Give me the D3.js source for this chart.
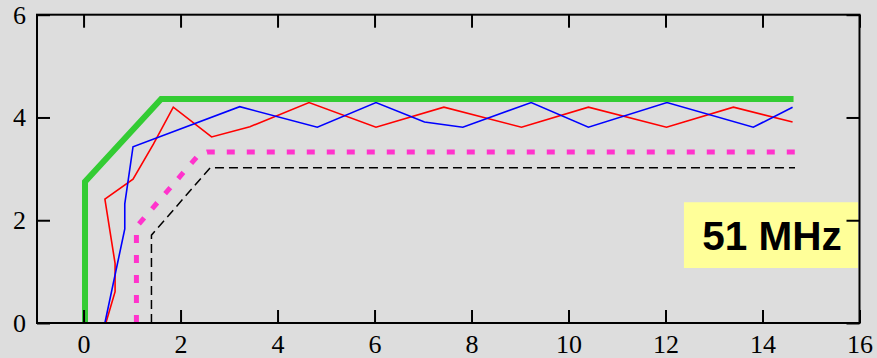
<!DOCTYPE html>
<html>
<head>
<meta charset="utf-8">
<script src="https://cdn.jsdelivr.net/npm/d3@7"></script>
<style>
  html, body { margin: 0; padding: 0; background: #dddddd; }
  svg { display: block; }
</style>
</head>
<body>
<svg id="chart" width="877" height="358"></svg>
<script>
// Profile curves, each as [x, y] pairs
const greenProfile = [[0.03, 0], [0.03, 2.75], [1.6, 4.36], [14.64, 4.36]];
const magentaProfile = [[1.09, 0], [1.09, 1.87], [2.38, 3.28], [2.55, 3.33], [14.89, 3.33]];
const blackProfile = [[1.40, 0], [1.40, 1.71], [2.61, 3.02], [14.67, 3.02]];
const redProfile = [
  [0.46, 0], [0.65, 0.61], [0.65, 1.16], [0.44, 2.41], [1.02, 2.80], [1.44, 3.48],
  [1.85, 4.20], [2.64, 3.62], [3.43, 3.82], [4.65, 4.29], [6.03, 3.81], [7.43, 4.20],
  [9.03, 3.81], [10.41, 4.20], [12.02, 3.81], [13.40, 4.20], [14.62, 3.91]
];
const blueProfile = [
  [0.44, 0], [0.85, 1.83], [0.85, 2.32], [1.02, 3.43], [3.22, 4.21], [4.82, 3.81],
  [6.03, 4.29], [7.03, 3.91], [7.82, 3.81], [9.23, 4.29], [10.41, 3.81], [12.03, 4.29],
  [13.81, 3.81], [14.62, 4.20]
];

const xTicks = [0, 2, 4, 6, 8, 10, 12, 14, 16];
const yTicks = [0, 2, 4, 6];

const labelText = "51 MHz";
const labelBox = { x0: 12.38, x1: 15.97, y0: 1.07, y1: 2.35 };

const svg = d3.select("#chart");

const x = d3.scaleLinear().domain([-0.96, 16]).range([37, 859.5]);
const y = d3.scaleLinear().domain([0, 6]).range([323, 14.7]);

// Frequency label box (drawn under the frame so ticks sit on top)
svg.append("rect")
  .attr("x", x(labelBox.x0))
  .attr("y", y(labelBox.y1))
  .attr("width", x(labelBox.x1) - x(labelBox.x0))
  .attr("height", y(labelBox.y0) - y(labelBox.y1))
  .attr("fill", "#ffff99");

svg.append("text")
  .attr("x", (x(labelBox.x0) + x(labelBox.x1)) / 2 + 1)
  .attr("y", (y(labelBox.y0) + y(labelBox.y1)) / 2 + 14.5)
  .attr("text-anchor", "middle")
  .style("font-family", "'Liberation Sans', Arial, sans-serif")
  .style("font-weight", "bold")
  .style("font-size", "40.5px")
  .attr("fill", "#000")
  .text(labelText);

const line = d3.line().x(d => x(d[0])).y(d => y(d[1]));

function drawProfile(data, color, width, dash) {
  const p = svg.append("path")
    .datum(data)
    .attr("d", line)
    .attr("fill", "none")
    .attr("stroke", color)
    .attr("stroke-width", width);
  if (dash) p.attr("stroke-dasharray", dash);
  return p;
}

drawProfile(blackProfile, "#000000", 1.5, "9,5");
drawProfile(magentaProfile, "#ff33cc", 5, "8,12");
drawProfile(redProfile, "#ff0000", 1.6);
drawProfile(blueProfile, "#0000ff", 1.6);
drawProfile(greenProfile, "#33cc33", 6);

// Axes with inward ticks on all four sides
function styleAxis(g) {
  g.select(".domain").remove();
  g.selectAll(".tick line").attr("stroke", "#000").attr("stroke-width", 2);
  g.selectAll(".tick text")
    .attr("fill", "#000")
    .style("font-family", "'Liberation Serif', 'Times New Roman', serif")
    .style("font-size", "26px");
}

svg.append("g")
  .attr("transform", `translate(0,${y(0)})`)
  .call(d3.axisBottom(x).tickValues(xTicks).tickSize(-13).tickPadding(12).tickFormat(d3.format("d")))
  .call(styleAxis);

svg.append("g")
  .attr("transform", `translate(0,${y(6)})`)
  .call(d3.axisTop(x).tickValues(xTicks).tickSize(-13).tickFormat(""))
  .call(styleAxis);

svg.append("g")
  .attr("transform", `translate(${x(-0.96)},0)`)
  .call(d3.axisLeft(y).tickValues(yTicks).tickSize(-13).tickPadding(11).tickFormat(d3.format("d")))
  .call(styleAxis);

svg.append("g")
  .attr("transform", `translate(${x(16)},0)`)
  .call(d3.axisRight(y).tickValues(yTicks).tickSize(-13).tickFormat(""))
  .call(styleAxis);

// Plot frame
svg.append("rect")
  .attr("x", x(-0.96))
  .attr("y", y(6))
  .attr("width", x(16) - x(-0.96))
  .attr("height", y(0) - y(6))
  .attr("fill", "none")
  .attr("stroke", "#000")
  .attr("stroke-width", 2);
</script>
</body>
</html>
